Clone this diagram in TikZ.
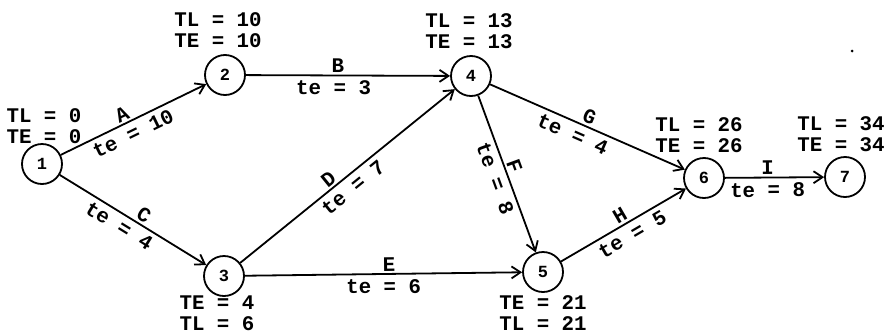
\documentclass[tikz,border=0pt]{standalone}
\usepackage{fontspec}
\setmonofont{Liberation Mono}
\usetikzlibrary{arrows.meta}
\begin{document}
\begin{tikzpicture}[x=1pt,y=-1pt,
  ev/.style={circle,draw,line width=1.8pt,minimum size=40pt,inner sep=0pt,font=\ttfamily\bfseries\fontsize{17}{17}\selectfont},
  lab/.style={inner sep=0pt,align=left,font=\ttfamily\bfseries\fontsize{20.8}{21}\selectfont},
  act/.style={line width=1.8pt,-{Straight Barb[length=9pt,width=12pt,line width=1.8pt]}},
  el/.style={sloped,font=\ttfamily\bfseries\fontsize{20.8}{21}\selectfont},
  up/.style={el,above,inner sep=2pt},
  dn/.style={el,below,inner sep=4.5pt}
]
\useasboundingbox[fill=white] (0,0) rectangle (891,335);
% events
\node[ev] (n1) at (42,164) {1};
\node[ev] (n2) at (225,75) {2};
\node[ev] (n3) at (224,276) {3};
\node[ev] (n4) at (471,76) {4};
\node[ev] (n5) at (543,272) {5};
\node[ev] (n6) at (704,178) {6};
\node[ev] (n7) at (845,177) {7};
% times
\node[lab] (t1) at (44,126) {TL = 0\\TE = 0};
\node[lab] (t2) at (218,30) {TL = 10\\TE = 10};
\node[lab] (t4) at (469,31) {TL = 13\\TE = 13};
\node[lab] (t6) at (699,135) {TL = 26\\TE = 26};
\node[lab] (t7) at (841,134) {TL = 34\\TE = 34};
\node[lab] (t3) at (217,313) {TE = 4\\TL = 6};
\node[lab] (t5) at (543,313) {TE = 21\\TL = 21};
% activities
\draw[act] (n1) -- node[up,pos=.45]{A} node[dn,pos=.46]{te = 10} (n2);
\draw[act] (n1) -- node[up,pos=.54]{C} node[dn,pos=.45]{te = 4} (n3);
\draw[act] (n2) -- node[up,pos=.45]{B} node[dn,pos=.43]{te = 3} (n4);
\draw[act] (n3) -- node[up,pos=.44]{D} node[dn,pos=.49]{te = 7} (n4);
\draw[act] (n3) -- node[up,pos=.52]{E} node[dn,pos=.50]{te = 6} (n5);
\draw[act] (n4) -- node[up,pos=.47]{F} node[dn,pos=.50]{te = 8} (n5);
\draw[act] (n4) -- node[up,pos=.49]{G} node[dn,pos=.45]{te = 4} (n6);
\draw[act] (n5) -- node[up,pos=.51]{H} node[dn,pos=.52]{te = 5} (n6);
\draw[act] (n6) -- node[up,pos=.43]{I} node[dn,pos=.43]{te = 8} (n7);
\fill (852,51) circle (1.5pt);
\end{tikzpicture}
\end{document}
